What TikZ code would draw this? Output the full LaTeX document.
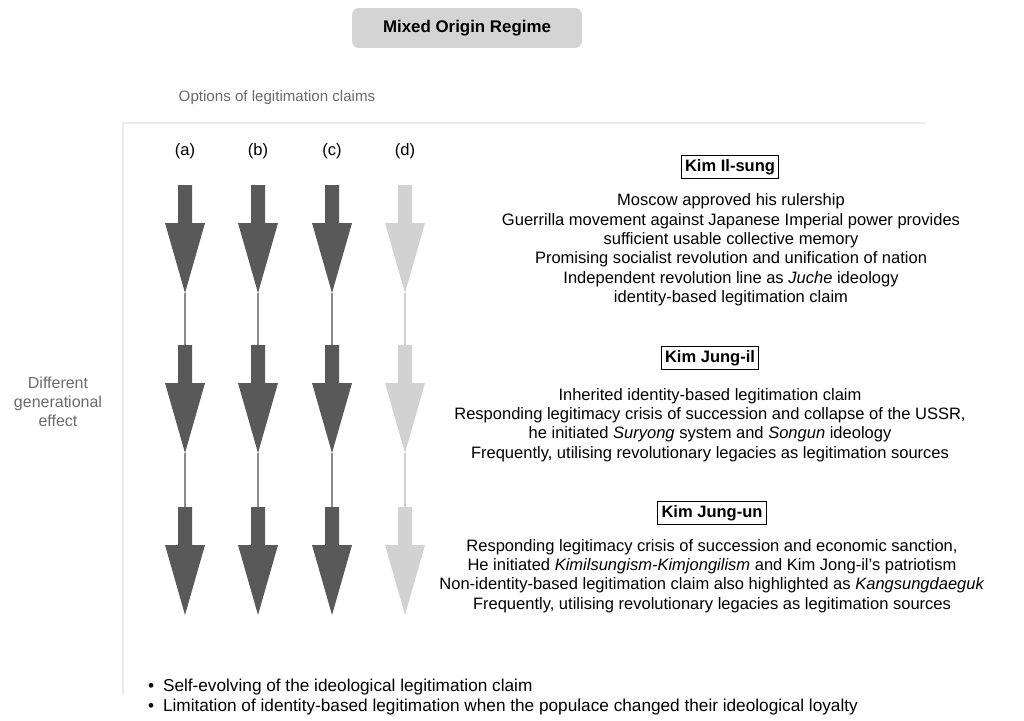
\documentclass[tikz,border=0pt]{standalone}
\usepackage{fontspec}
\setmainfont{Liberation Sans}
\usepackage{tikz}
\usetikzlibrary{positioning, calc}

\definecolor{arrowdark}{HTML}{595959}
\definecolor{arrowlight}{HTML}{D2D2D2}
\definecolor{labelgray}{HTML}{6B6B6B}
\definecolor{axisgray}{HTML}{EBEBEB}

\begin{document}
\begin{tikzpicture}[
  x=0.02cm, y=-0.02cm,
  font=\fontsize{9.4}{11}\selectfont,
  titlebox/.style={fill=black!17, rounded corners=4pt, minimum width=4.6cm,
    minimum height=0.8cm, font=\fontsize{9.6}{11}\selectfont\bfseries},
  namebox/.style={draw, line width=0.7pt, inner sep=2.2pt,
    font=\fontsize{9.4}{11}\selectfont\bfseries},
  claims/.style={align=center},
  side/.style={text=labelgray, align=center, font=\fontsize{8.6}{10.6}\selectfont},
  axis/.style={draw=axisgray, line width=1.3pt},
  link/.style={line width=0.6pt},
]
  \useasboundingbox (0,0) rectangle (1024,720);

  \node[titlebox] (title) at (467,28) {Mixed Origin Regime};
  \node[side] (options) at (277,98) {Options of legitimation claims};
  \node[side, font=\fontsize{9.1}{10.8}\selectfont] (effect) at (58,402) {Different\\generational\\effect};

  % axes
  \coordinate (origin) at (123,123);
  \coordinate (xend) at (925,123);
  \coordinate (yend) at (123,695);
  \draw[axis] (xend) -- (origin) -- (yend);

  % arrow columns
  \foreach \col/\x/\c/\l in {a/185/arrowdark/black!45, b/258/arrowdark/black!45,
                             c/332/arrowdark/black!45, d/405/arrowlight/black!18} {
    \node (lab\col) at (\x,151) {(\col)};
    \foreach \row/\y in {1/185, 2/345, 3/507} {
      \fill[\c] (\x-7,\y) -- (\x+7,\y) -- (\x+7,\y+38) -- (\x+20,\y+38)
        -- (\x,\y+108) -- (\x-20,\y+38) -- (\x-7,\y+38) -- cycle;
      \coordinate (top\col\row) at (\x,\y);
      \coordinate (tip\col\row) at (\x,\y+108);
    }
    \draw[link, \l] (tip\col1) -- (top\col2);
    \draw[link, \l] (tip\col2) -- (top\col3);
  }

  % leaders
  \node[namebox] (ilsung) at (730,167) {Kim Il-sung};
  \node[claims] (ilsungtext) at (731,250) {Moscow approved his rulership\\
    Guerrilla movement against Japanese Imperial power provides\\
    sufficient usable collective memory\\
    Promising socialist revolution and unification of nation\\
    Independent revolution line as \textit{Juche} ideology\\
    identity-based legitimation claim};

  \node[namebox] (jungil) at (710,358) {Kim Jung-il};
  \node[claims] (jungiltext) at (710,425) {Inherited identity-based legitimation claim\\
    Responding legitimacy crisis of succession and collapse of the USSR,\\
    he initiated \textit{Suryong} system and \textit{Songun} ideology\\
    Frequently, utilising revolutionary legacies as legitimation sources};

  \node[namebox] (jungun) at (712,513) {Kim Jung-un};
  \node[claims] (jinguntext) at (712,576) {Responding legitimacy crisis of succession and economic sanction,\\
    He initiated \textit{Kimilsungism-Kimjongilism} and Kim Jong-il's patriotism\\
    Non-identity-based legitimation claim also highlighted as \textit{Kangsungdaeguk}\\
    Frequently, utilising revolutionary legacies as legitimation sources};

  % findings
  \node[anchor=west, align=left, font=\fontsize{9.8}{11.2}\selectfont] (findings) at (142,697)
    {\textbullet\hspace{5pt}Self-evolving of the ideological legitimation claim\\
     \textbullet\hspace{5pt}Limitation of identity-based legitimation when the populace changed their ideological loyalty};
\end{tikzpicture}
\end{document}
